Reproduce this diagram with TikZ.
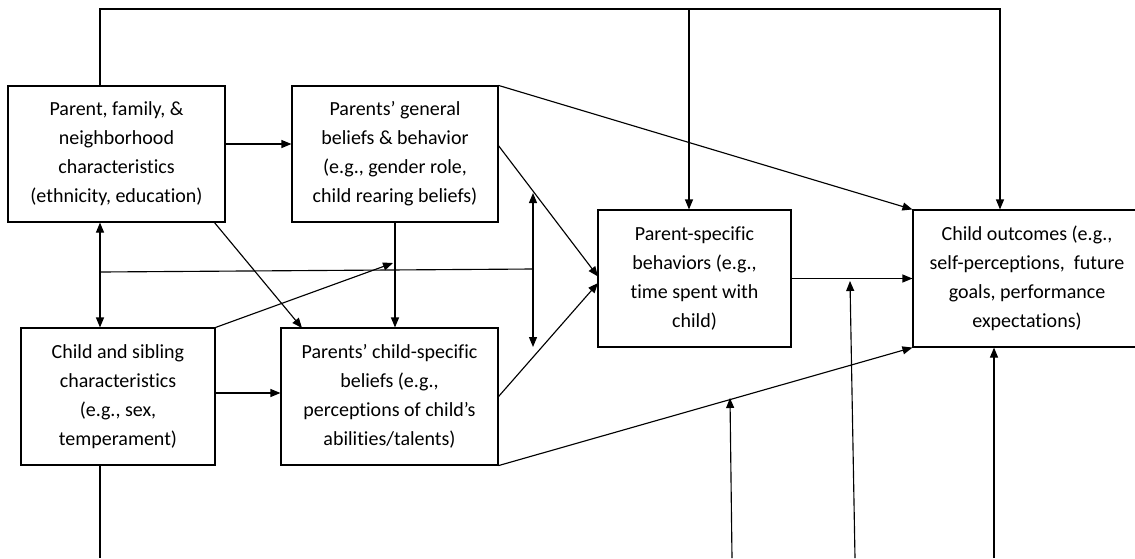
\documentclass[tikz,border=0pt]{standalone}
\usepackage{fontspec}
\setmainfont[Ligatures=NoCommon]{Carlito}
\usetikzlibrary{arrows.meta}
\begin{document}
\begin{tikzpicture}[x=0.75pt,y=-0.75pt,
  line width=0.85pt,
  box/.style={draw, rectangle, align=center, inner sep=2pt,
    font=\fontsize{15}{21.75}\selectfont},
  tip/.style={-{Triangle[length=7.5pt,width=6pt]}},
  tips/.style={{Triangle[length=7.5pt,width=6pt]}-{Triangle[length=7.5pt,width=6pt]}}]
\useasboundingbox (0,0) rectangle (1135,558);

% boxes
\node[box, minimum width=162.75pt, minimum height=102pt] (A) at (116.5,154)
  {Parent, family, \&\\neighborhood\\characteristics\\(ethnicity, education)};
\node[box, minimum width=154.5pt, minimum height=102pt] (B) at (395,154)
  {Parents’ general\\beliefs \& behavior\\(e.g., gender role,\\child rearing beliefs)};
\node[box, minimum width=145.5pt, minimum height=102.75pt] (C) at (118,396.5)
  {Child and sibling\\characteristics\\(e.g., sex,\\temperament)};
\node[box, minimum width=162.75pt, minimum height=102.75pt] (D) at (389.5,396.5)
  {Parents’ child-specific\\beliefs (e.g.,\\perceptions of child’s\\abilities/talents)};
\node[box, minimum width=144.75pt, minimum height=102.75pt] (E) at (694.5,278.5)
  {Parent-specific\\behaviors (e.g.,\\time spent with\\child)};
\node[box, minimum width=171pt, minimum height=102.75pt] (F) at (1027,278.5)
  {Child outcomes (e.g.,\\self-perceptions,~ future\\goals, performance\\expectations)};

% helper points
\coordinate (tl) at (100,9);
\coordinate (tm) at (689,9);
\coordinate (tr) at (1000,9);
\coordinate (hl) at (100,272);
\coordinate (hr) at (533,269);
\coordinate (du) at (533,193);
\coordinate (dd) at (533,347);
\coordinate (ab) at (0,144);
\coordinate (cd) at (0,393);
\coordinate (aout) at (214,222);
\coordinate (din) at (302,328);
\coordinate (bd) at (393,263);
\coordinate (bout) at (498,145);
\coordinate (ein1) at (598,276.5);
\coordinate (ein2) at (598,283);
\coordinate (b1) at (100,558);
\coordinate (b2a) at (732,558);
\coordinate (b2b) at (730,398);
\coordinate (b3a) at (855,558);
\coordinate (b3b) at (850,281);
\coordinate (b4) at (994,558);

% top loop
\draw[tip] (A.north -| tl) -- (tl) -- (tr) -- (F.north -| tr);
\draw[tip] (tm) -- (E.north -| tm);

% left column
\draw[tips] (A.south -| tl) -- (C.north -| tl);
\draw (hl) -- (hr);
\draw[tips] (du) -- (dd);
\draw (C.south -| b1) -- (b1);

% between boxes
\draw[tip] (A.east |- ab) -- (B.west |- ab);
\draw[tip] (C.east |- cd) -- (D.west |- cd);
\draw[tip] (B.south) -- (D.north -| B.south);
\draw[tip] (aout) -- (din);
\draw[tip] (C.north east) -- (bd);
\draw[tip] (B.north east) -- (F.north west);
\draw[tip] (bout) -- (ein1);
\draw[tip] (D.east) -- (ein2);
\draw[tip] (E.east) -- (F.west);
\draw[tip] (D.south east) -- (F.south west);

% lines from below
\draw[tip] (b2a) -- (b2b);
\draw[tip] (b3a) -- (b3b);
\draw[tip] (b4) -- (F.south -| b4);
\end{tikzpicture}
\end{document}
